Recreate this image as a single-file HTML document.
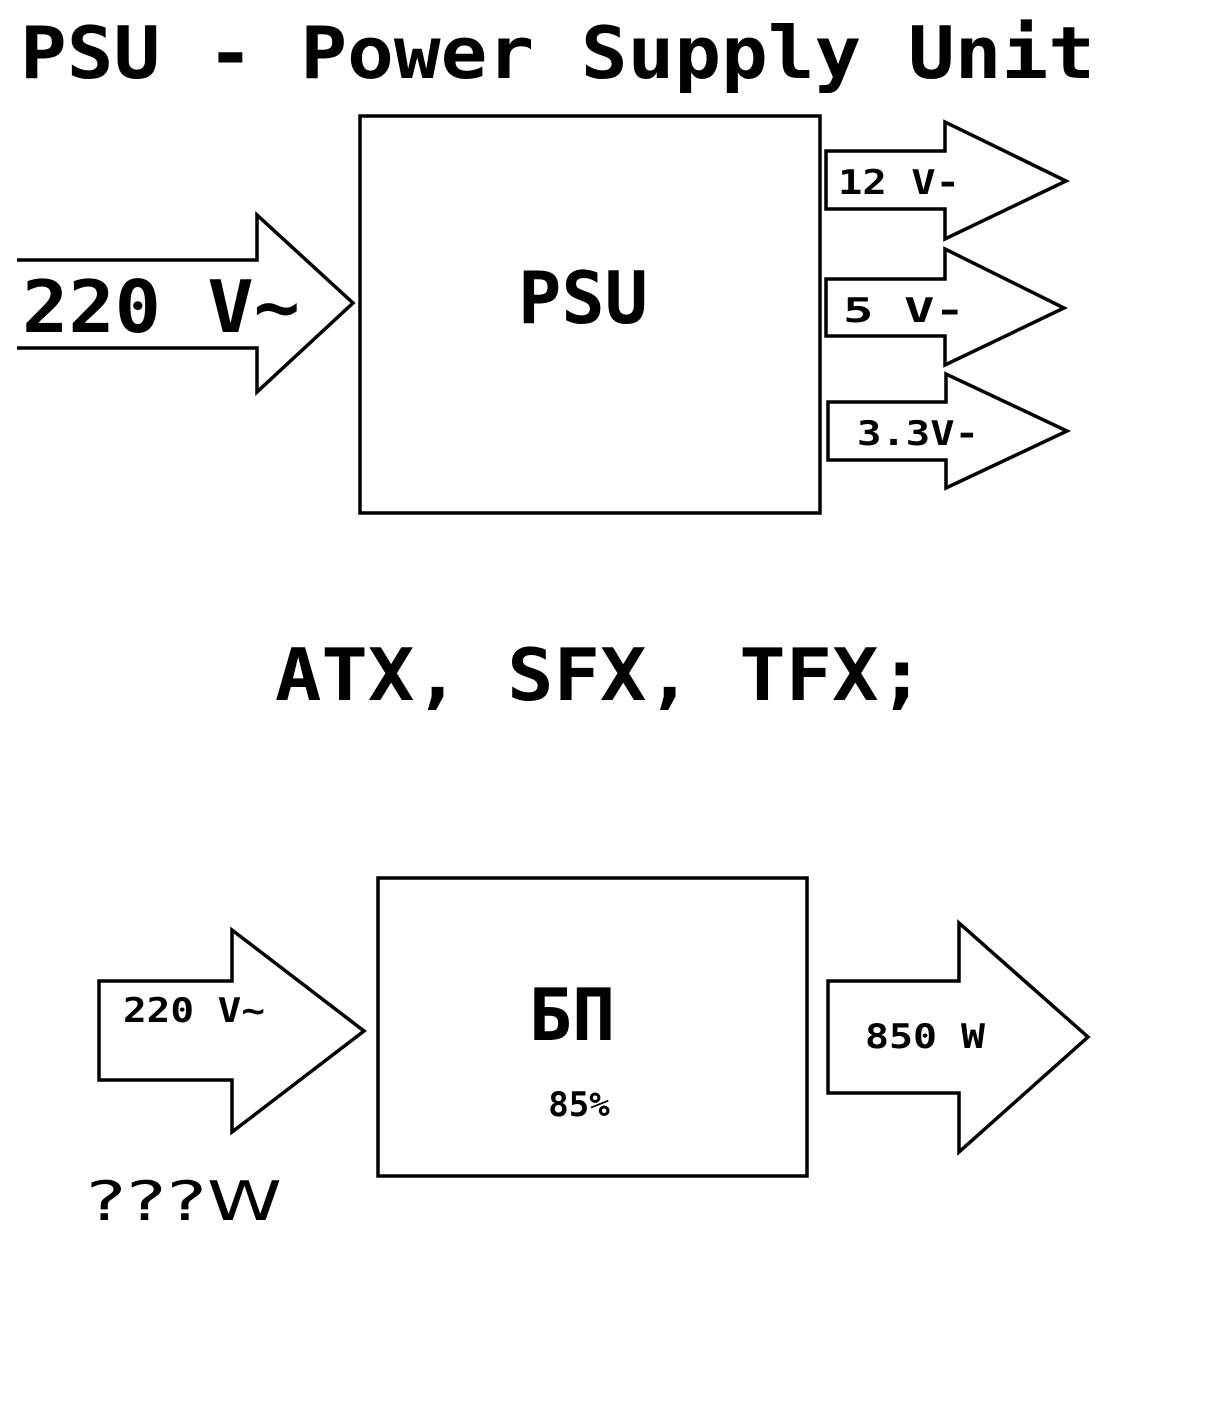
<!DOCTYPE html>
<html><head><meta charset="utf-8"><style>
html,body{margin:0;padding:0;background:#fff;}
svg{display:block;}
text{font-family:"DejaVu Sans Mono","Liberation Mono",monospace;font-weight:bold;fill:#000;}
</style></head><body>
<svg width="1216" height="1424" viewBox="0 0 1216 1424" xmlns="http://www.w3.org/2000/svg">
<g fill="none" stroke="#000" stroke-width="3.5" stroke-linejoin="miter">
<text x="20" y="78" font-size="72" textLength="1075" lengthAdjust="spacingAndGlyphs" stroke="none">PSU - Power Supply Unit</text>
<rect x="360" y="116" width="460" height="397"/>
<polyline points="17,260 257,260 257,215 353,303 257,392 257,348 17,348"/>
<text x="22" y="332" font-size="72" textLength="278" lengthAdjust="spacingAndGlyphs" stroke="none">220 V~</text>
<text x="583" y="323" font-size="72" text-anchor="middle" stroke="none">PSU</text>
<polygon points="826,151 945,151 945,122 1066,181 945,239 945,209 826,209"/>
<text x="838" y="194" font-size="34" textLength="122" lengthAdjust="spacingAndGlyphs" stroke="none">12 V-</text>
<polygon points="826,279 945,279 945,249 1064,308 945,365 945,336 826,336"/>
<text x="843" y="322" font-size="34" textLength="122" lengthAdjust="spacingAndGlyphs" stroke="none">5  V-</text>
<polygon points="828,402 946,402 946,374 1067,431 946,488 946,460 828,460"/>
<text x="857" y="445" font-size="34" textLength="122" lengthAdjust="spacingAndGlyphs" stroke="none">3.3V-</text>
<text x="275" y="700" font-size="72" textLength="650" lengthAdjust="spacingAndGlyphs" stroke="none">ATX, SFX, TFX;</text>
<rect x="378" y="878" width="429" height="298"/>
<text x="572" y="1040" font-size="72" text-anchor="middle" stroke="none">БП</text>
<text x="579" y="1116" font-size="34" text-anchor="middle" stroke="none">85%</text>
<polygon points="99,981 232,981 232,930 364,1031 232,1132 232,1080 99,1080"/>
<text x="123" y="1022" font-size="34" textLength="142" lengthAdjust="spacingAndGlyphs" stroke="none">220 V~</text>
<polygon points="828,981 959,981 959,923 1088,1037 959,1152 959,1093 828,1093"/>
<text x="865" y="1048" font-size="34" textLength="120" lengthAdjust="spacingAndGlyphs" stroke="none">850 W</text>
<text x="86" y="1220" font-size="54" textLength="196" lengthAdjust="spacingAndGlyphs" stroke="none" style="font-family:'DejaVu Sans',sans-serif;font-weight:normal">???W</text>
</g>
</svg>
</body></html>
